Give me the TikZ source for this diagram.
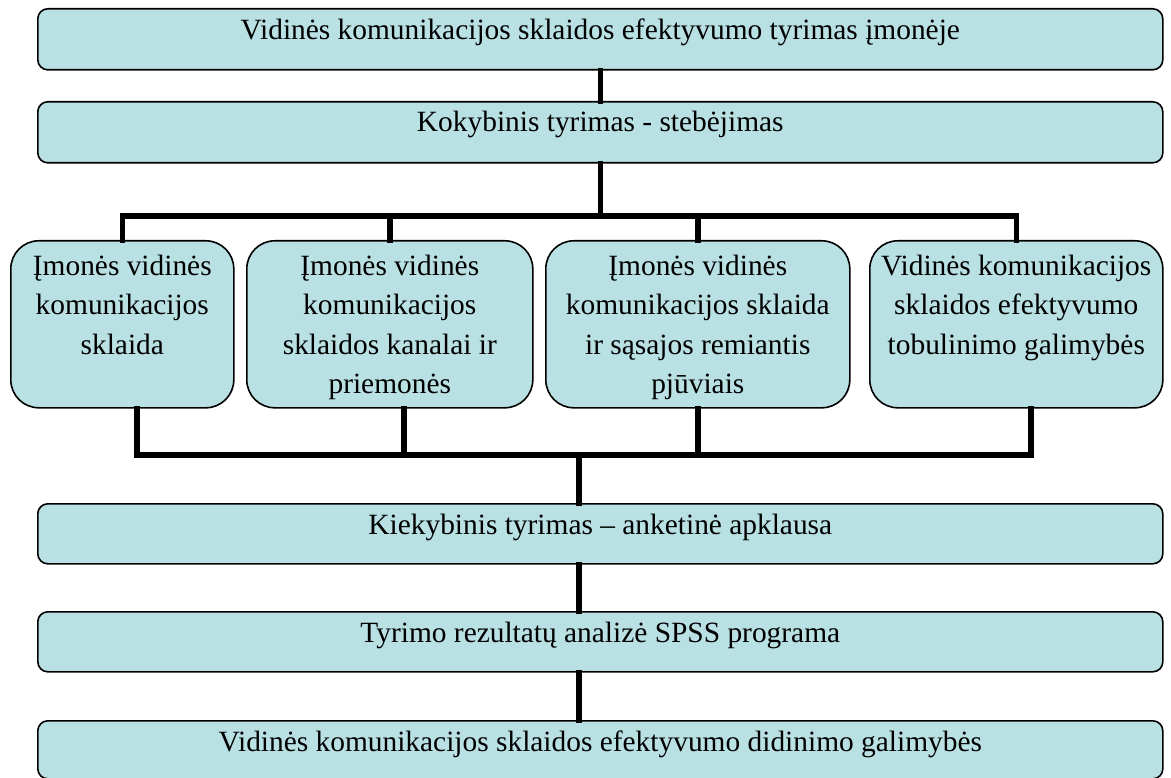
\documentclass[tikz,border=0pt]{standalone}
\usepackage{fontspec}
\setmainfont{Liberation Serif}
\definecolor{boxfill}{HTML}{B9E0E3}
\begin{document}
\begin{tikzpicture}[x=1pt,y=-1pt,
  box/.style={draw=black,line width=1.6pt,fill=boxfill,inner sep=0pt,anchor=north west},
  wide/.style={box,rounded corners=10pt},
  tall/.style={box,rounded corners=28pt},
  txt/.style={font=\rmfamily\fontsize{29.4}{39.5}\selectfont,align=center,inner sep=0pt,anchor=base},
  conn/.style={line width=5.5pt,line join=miter,line cap=rect}]
\useasboundingbox (0,0) rectangle (1171,778);
% wide boxes
\node[wide,minimum width=1125pt,minimum height=61pt] (b1) at (37,8) {};
\node[wide,minimum width=1125pt,minimum height=61pt] (b2) at (37,101) {};
\node[wide,minimum width=1125pt,minimum height=60pt] (b3) at (37,503) {};
\node[wide,minimum width=1125pt,minimum height=60pt] (b4) at (37,611) {};
\node[wide,minimum width=1125pt,minimum height=58pt] (b5) at (37,720) {};
% four boxes
\node[tall,minimum width=223pt,minimum height=167pt] (c1) at (10,240) {};
\node[tall,minimum width=286pt,minimum height=167pt] (c2) at (246,240) {};
\node[tall,minimum width=304pt,minimum height=167pt] (c3) at (545,240) {};
\node[tall,minimum width=293pt,minimum height=167pt] (c4) at (869,240) {};
% texts
\node[txt] (t1) at ([yshift=-32pt]b1.north) {Vidinės komunikacijos sklaidos efektyvumo tyrimas įmonėje};
\node[txt] (t2) at ([yshift=-31pt]b2.north) {Kokybinis tyrimas - stebėjimas};
\node[txt] (t3) at ([yshift=-31pt]b3.north) {Kiekybinis tyrimas – anketinė apklausa};
\node[txt] (t4) at ([yshift=-31pt]b4.north) {Tyrimo rezultatų analizė SPSS programa};
\node[txt] (t5) at ([yshift=-31pt]b5.north) {Vidinės komunikacijos sklaidos efektyvumo didinimo galimybės};
\node[txt] (u1) at ([yshift=-114pt]c1.north) {Įmonės vidinės\\komunikacijos\\sklaida};
\node[txt] (u2) at ([yshift=-153.5pt]c2.north) {Įmonės vidinės\\komunikacijos\\sklaidos kanalai ir\\priemonės};
\node[txt] (u3) at ([yshift=-153.5pt]c3.north) {Įmonės vidinės\\komunikacijos sklaida\\ir sąsajos remiantis\\pjūviais};
\node[txt] (u4) at ([yshift=-114pt]c4.north) {Vidinės komunikacijos\\sklaidos efektyvumo\\tobulinimo galimybės};
% connectors
\coordinate (tbar) at (600,216);
\coordinate (bbar) at (579,455);
\draw[conn] (b1.south) -- (b2.north);
\draw[conn] (b2.south) -- (b2.south |- tbar);
\draw[conn] (c1.north) -- (c1.north |- tbar) -- (c4.north |- tbar) -- (c4.north);
\draw[conn] (c2.north) -- (c2.north |- tbar);
\draw[conn] (c3.north) -- (c3.north |- tbar);
\coordinate (d1) at ([xshift=14.5pt]c1.south);
\coordinate (d2) at ([xshift=14pt]c2.south);
\coordinate (d3) at (c3.south);
\coordinate (d4) at ([xshift=14.5pt]c4.south);
\draw[conn] (d1) -- (d1 |- bbar) -- (d4 |- bbar) -- (d4);
\draw[conn] (d2) -- (d2 |- bbar);
\draw[conn] (d3) -- (d3 |- bbar);
\draw[conn] (bbar) -- (bbar |- b3.north);
\draw[conn] (bbar |- b3.south) -- (bbar |- b4.north);
\draw[conn] (bbar |- b4.south) -- (bbar |- b5.north);
\end{tikzpicture}
\end{document}
